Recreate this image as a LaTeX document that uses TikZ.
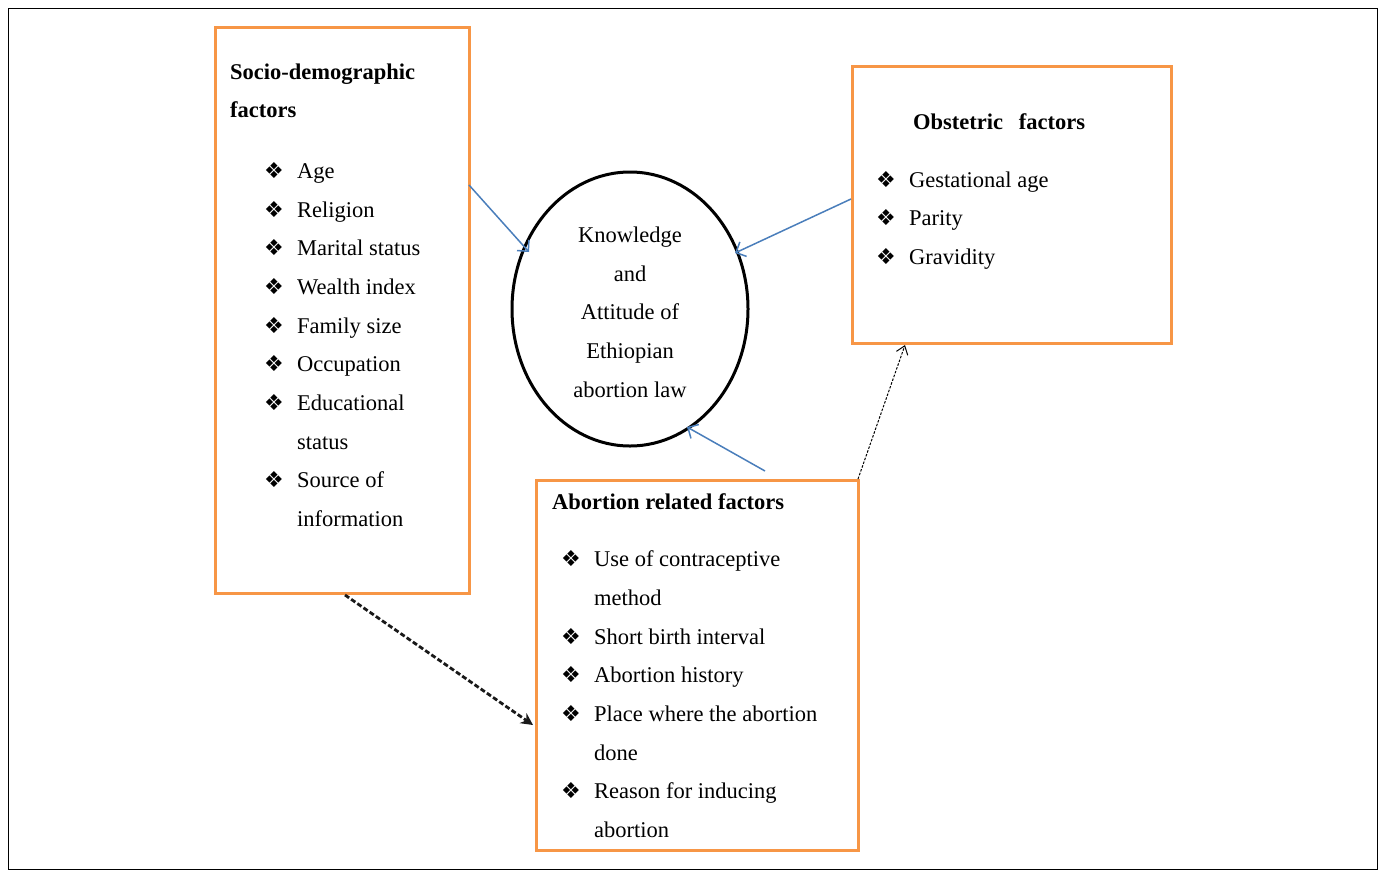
\documentclass[tikz,border=0pt]{standalone}
\usepackage{fontspec}
\setmainfont{Liberation Serif}
\newfontfamily\dingfont{DejaVu Sans}
\usetikzlibrary{arrows.meta,shapes.geometric}
\definecolor{boxorange}{RGB}{247,150,70}
\definecolor{arrowblue}{RGB}{74,126,187}
\tikzset{
  factorbox/.style={draw=boxorange, line width=3pt},
  txt/.style={anchor=base west, inner sep=0pt, font=\fontsize{22.5}{27}\selectfont},
  head/.style={txt, font=\fontsize{22.5}{27}\selectfont\bfseries},
  ctr/.style={anchor=base, inner sep=0pt, font=\fontsize{22.5}{27}\selectfont},
  bul/.style={anchor=base west, inner sep=0pt, font=\dingfont\fontsize{22}{24}\selectfont},
  bluearrow/.style={draw=arrowblue, line width=1.5pt, -{Straight Barb[length=8pt,width=16pt]}},
}
\newcommand{\itm}[3]{\node[bul] at (#1-1,#2+7) {❖}; \node[txt] at (#1+32,#2+7) {#3};}
\newcommand{\cont}[3]{\node[txt] at (#1+32,#2+7) {#3};}
\begin{document}
\begin{tikzpicture}[x=1pt,y=-1pt]
\useasboundingbox (0,0) rectangle (1379,871);
\node[draw=black, line width=0.8pt, minimum width=1369pt, minimum height=861pt, inner sep=0pt] (frame) at (692.5,438.5) {};
% boxes
\node[factorbox, minimum width=254pt, minimum height=566pt, inner sep=0pt] (socio) at (342,310) {};
\node[factorbox, minimum width=319pt, minimum height=277pt, inner sep=0pt] (obst) at (1011.5,204.5) {};
\node[factorbox, minimum width=322pt, minimum height=370pt, inner sep=0pt] (abort) at (697,665) {};
\node[draw=black, line width=3pt, ellipse, minimum width=236pt, minimum height=274pt, inner sep=0pt] (kn) at (630,309) {};
% socio text
\node[head] at (230,79) {Socio-demographic};
\node[head] at (230,117) {factors};
\itm{265}{171}{Age}
\itm{265}{210}{Religion}
\itm{265}{248}{Marital status}
\itm{265}{287}{Wealth index}
\itm{265}{326}{Family size}
\itm{265}{364}{Occupation}
\itm{265}{403}{Educational}
\cont{265}{442}{status}
\itm{265}{480}{Source of}
\cont{265}{519}{information}
% obstetric text
\node[head] at (913,129) {Obstetric\hspace{0.7em}factors};
\itm{877}{180}{Gestational age}
\itm{877}{218}{Parity}
\itm{877}{257}{Gravidity}
% abortion text
\node[head] at (552,509) {Abortion related factors};
\itm{562}{559}{Use of contraceptive}
\cont{562}{598}{method}
\itm{562}{637}{Short birth interval}
\itm{562}{675}{Abortion history}
\itm{562}{714}{Place where the abortion}
\cont{562}{753}{done}
\itm{562}{791}{Reason for inducing}
\cont{562}{830}{abortion}
% ellipse text
\node[ctr] at (630,242) {Knowledge};
\node[ctr] at (630,281) {and};
\node[ctr] at (630,319) {Attitude of};
\node[ctr] at (630,358) {Ethiopian};
\node[ctr] at (630,397) {abortion law};
% connector coordinates
\coordinate (s1) at (469,185);
\coordinate (k1) at (529,252);
\coordinate (o1) at (851,199);
\coordinate (k2) at (735,253);
\coordinate (a1) at (765,471);
\coordinate (k3) at (687,427);
\coordinate (s2) at (345,595);
\coordinate (a2) at (533,725);
\coordinate (a3) at (858,479);
\coordinate (o2) at (905,345);
\draw[bluearrow] (s1) -- (k1);
\draw[bluearrow] (o1) -- (k2);
\draw[bluearrow] (a1) -- (k3);
\draw[black!90, line width=2.8pt, dash pattern=on 5pt off 2.5pt, -{Stealth[length=12pt,width=12pt]}] (s2) -- (a2);
\draw[black, line width=1pt, dash pattern=on 2.5pt off 1.5pt, -{Straight Barb[length=8pt,width=12pt]}] (a3) -- (o2);
\end{tikzpicture}
\end{document}
